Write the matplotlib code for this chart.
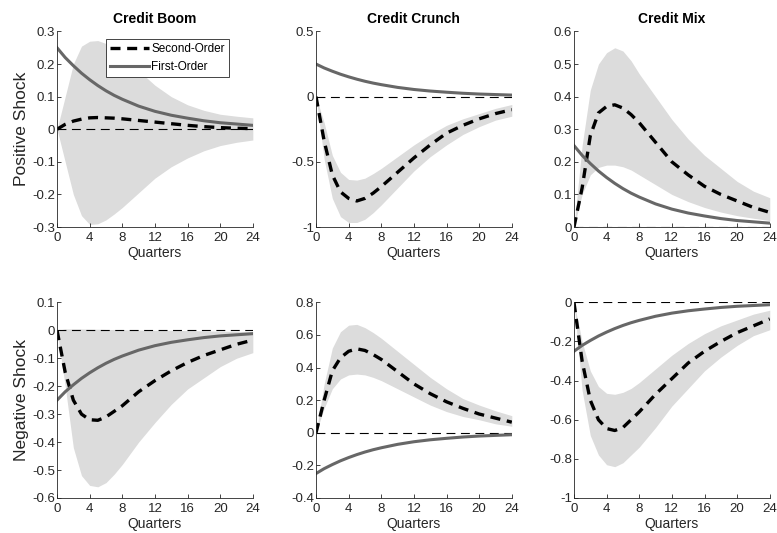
import matplotlib.pyplot as plt
import matplotlib.ticker as mticker

plt.rcParams['font.family'] = ['Liberation Sans', 'DejaVu Sans']

quarters = [0, 1, 2, 3, 4, 5, 6, 7, 8, 10, 12, 14, 16, 18, 20, 22, 24]

# first-order response (same shape every panel, sign flips for negative shock)
first_pos = [0.25, 0.22, 0.195, 0.172, 0.152, 0.134, 0.118, 0.104, 0.092, 0.071,
             0.055, 0.043, 0.034, 0.026, 0.020, 0.016, 0.012]
first_neg = [-v for v in first_pos]

# Credit Boom, positive shock
boom_pos = [0, 0.015, 0.025, 0.031, 0.035, 0.036, 0.035, 0.034, 0.032, 0.027,
            0.022, 0.017, 0.012, 0.008, 0.005, 0.003, 0.002]
boom_pos_hi = [0, 0.1, 0.2, 0.255, 0.27, 0.272, 0.263, 0.245, 0.225, 0.18,
               0.135, 0.1, 0.075, 0.058, 0.046, 0.04, 0.035]
boom_pos_lo = [0, -0.1, -0.2, -0.265, -0.292, -0.29, -0.278, -0.26, -0.24, -0.195,
               -0.15, -0.115, -0.088, -0.066, -0.05, -0.04, -0.033]

# Credit Crunch, positive shock
crunch_pos = [0, -0.34, -0.6, -0.73, -0.78, -0.80, -0.78, -0.74, -0.69, -0.58,
              -0.47, -0.37, -0.28, -0.22, -0.17, -0.13, -0.10]
crunch_pos_hi = [0, -0.2, -0.45, -0.58, -0.635, -0.64, -0.625, -0.59, -0.55, -0.46,
                 -0.37, -0.29, -0.22, -0.17, -0.13, -0.09, -0.06]
crunch_pos_lo = [0, -0.48, -0.78, -0.92, -0.965, -0.965, -0.94, -0.89, -0.83, -0.70,
                 -0.57, -0.46, -0.37, -0.29, -0.23, -0.18, -0.15]

# Credit Mix, positive shock
mix_pos = [0, 0.12, 0.28, 0.35, 0.37, 0.375, 0.365, 0.345, 0.32, 0.26,
           0.2, 0.16, 0.125, 0.1, 0.08, 0.06, 0.045]
mix_pos_hi = [0, 0.25, 0.42, 0.5, 0.535, 0.55, 0.54, 0.51, 0.47, 0.4,
              0.33, 0.27, 0.22, 0.18, 0.14, 0.11, 0.09]
mix_pos_lo = [0, 0.1, 0.16, 0.183, 0.19, 0.19, 0.185, 0.175, 0.16, 0.13,
              0.1, 0.078, 0.06, 0.046, 0.035, 0.027, 0.02]

# Credit Boom, negative shock
boom_neg = [0, -0.15, -0.25, -0.3, -0.32, -0.322, -0.31, -0.29, -0.27, -0.22,
            -0.18, -0.145, -0.115, -0.09, -0.07, -0.05, -0.035]
boom_neg_hi = [0, 0.005, 0.005, 0.005, 0.004, 0.004, 0.003, 0.003, 0.002, 0.001,
               0, 0, -0.001, -0.002, -0.003, -0.004, -0.005]
boom_neg_lo = [0, -0.2, -0.42, -0.52, -0.555, -0.56, -0.545, -0.515, -0.48, -0.4,
               -0.33, -0.265, -0.21, -0.17, -0.13, -0.1, -0.08]

# Credit Crunch, negative shock
crunch_neg = [0, 0.2, 0.38, 0.46, 0.5, 0.515, 0.505, 0.48, 0.45, 0.375,
              0.3, 0.24, 0.19, 0.15, 0.115, 0.09, 0.065]
crunch_neg_hi = [0, 0.3, 0.52, 0.62, 0.66, 0.665, 0.645, 0.615, 0.58, 0.5,
                 0.42, 0.34, 0.27, 0.21, 0.17, 0.135, 0.105]
crunch_neg_lo = [0, 0.15, 0.27, 0.33, 0.355, 0.36, 0.355, 0.34, 0.32, 0.27,
                 0.22, 0.17, 0.13, 0.1, 0.08, 0.055, 0.04]

# Credit Mix, negative shock
mix_neg = [0, -0.3, -0.5, -0.6, -0.645, -0.655, -0.64, -0.6, -0.56, -0.47,
           -0.39, -0.31, -0.25, -0.2, -0.155, -0.12, -0.085]
mix_neg_hi = [0, -0.2, -0.35, -0.43, -0.465, -0.47, -0.46, -0.44, -0.41, -0.34,
              -0.27, -0.21, -0.16, -0.12, -0.09, -0.06, -0.04]
mix_neg_lo = [0, -0.45, -0.68, -0.78, -0.83, -0.84, -0.82, -0.78, -0.74, -0.64,
              -0.53, -0.44, -0.35, -0.28, -0.22, -0.17, -0.14]

titles = ['Credit Boom', 'Credit Crunch', 'Credit Mix']
row_labels = ['Positive Shock', 'Negative Shock']
ylims = [[(-0.3, 0.3), (-1, 0.5), (0, 0.6)],
         [(-0.6, 0.1), (-0.4, 0.8), (-1, 0)]]
ysteps = [[0.1, 0.5, 0.1], [0.1, 0.2, 0.2]]

panels = [
    [(boom_pos, boom_pos_lo, boom_pos_hi, first_pos),
     (crunch_pos, crunch_pos_lo, crunch_pos_hi, first_pos),
     (mix_pos, mix_pos_lo, mix_pos_hi, first_pos)],
    [(boom_neg, boom_neg_lo, boom_neg_hi, first_neg),
     (crunch_neg, crunch_neg_lo, crunch_neg_hi, first_neg),
     (mix_neg, mix_neg_lo, mix_neg_hi, first_neg)],
]

fig = plt.figure(figsize=(7.77, 5.33), dpi=100)
lefts = [0.0734, 0.4067, 0.7387]
bottoms = [0.574, 0.0657]

for r in range(2):
    for c in range(3):
        ax = fig.add_axes([lefts[c], bottoms[r], 0.252, 0.367])
        second, lo, hi, first = panels[r][c]
        ax.fill_between(quarters, lo, hi, color='#dcdcdc', lw=0)
        ax.axhline(0, color='black', lw=0.8, ls=(0, (8, 5)))
        l2, = ax.plot(quarters, second, color='black', lw=2.4, ls=(0, (3, 2)))
        l1, = ax.plot(quarters, first, color='#676767', lw=2.2)
        ax.set_xlim(0, 24)
        ax.set_ylim(*ylims[r][c])
        ax.set_xticks(range(0, 25, 4))
        ax.yaxis.set_major_locator(mticker.MultipleLocator(ysteps[r][c]))
        ax.yaxis.set_major_formatter(mticker.FuncFormatter(lambda v, p: '%g' % round(v, 6)))
        for s in ['top', 'right']:
            ax.spines[s].set_visible(False)
        for s in ['left', 'bottom']:
            ax.spines[s].set_color('#262626')
            ax.spines[s].set_linewidth(0.6)
        ax.tick_params(direction='in', length=3, width=0.6, labelsize=9.5,
                       colors='#262626')
        ax.tick_params(axis='x', pad=3.5)
        ax.tick_params(axis='y', pad=1.5)
        ax.set_xlabel('Quarters', fontsize=10, labelpad=1.5, color='#262626')
        if r == 0:
            ax.set_title(titles[c], fontsize=10, fontweight='bold', pad=6)
        if c == 0:
            ax.set_ylabel(row_labels[r], fontsize=12.5, labelpad=2, color='#262626')
        if r == 0 and c == 0:
            leg = ax.legend([l2, l1], ['Second-Order', 'First-Order'], fontsize=8.5,
                            loc='upper left', bbox_to_anchor=(0.25, 0.96),
                            fancybox=False, framealpha=1, edgecolor='#262626',
                            borderpad=0.35, handlelength=3.3, handletextpad=0.2,
                            labelspacing=0.45, borderaxespad=0)
            leg.get_frame().set_linewidth(0.6)

fig.savefig('out.png', dpi=100)
